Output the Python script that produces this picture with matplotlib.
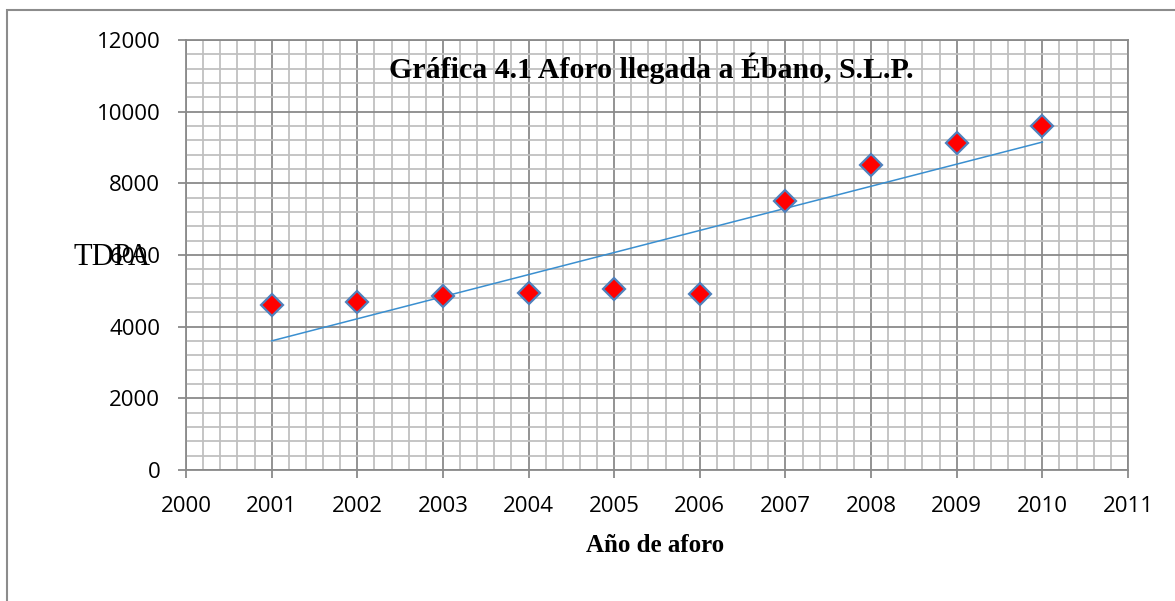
import numpy as np
import matplotlib
matplotlib.use("Agg")
import matplotlib.pyplot as plt
from matplotlib.ticker import MultipleLocator
from matplotlib.patches import Rectangle

# Traffic count data (TDPA) per year
years = [2001, 2002, 2003, 2004, 2005, 2006, 2007, 2008, 2009, 2010]
tdpa = [4600, 4700, 4850, 4950, 5050, 4900, 7500, 8500, 9125, 9600]

title = "Gráfica 4.1 Aforo llegada a Ébano, S.L.P."
xlabel = "Año de aforo"
ylabel = "TDPA"

fig = plt.figure(figsize=(11.75, 6.01), dpi=100)
fig.patch.set_facecolor("white")

# Outer chart-area frame
fig.patches.append(Rectangle((7 / 1175, -0.05), 1.2, 1 - 10 / 601 + 0.05,
                             transform=fig.transFigure, fill=False,
                             edgecolor="#8c8c8c", linewidth=1.5))

ax = fig.add_axes([186 / 1175, 1 - 470 / 601, 942 / 1175, 430 / 601])
ax.set_xlim(2000, 2011)
ax.set_ylim(0, 12000)

ax.xaxis.set_major_locator(MultipleLocator(1))
ax.xaxis.set_minor_locator(MultipleLocator(0.2))
ax.yaxis.set_major_locator(MultipleLocator(2000))
ax.yaxis.set_minor_locator(MultipleLocator(400))

ax.grid(which="minor", color="#c0c0c0", linewidth=1.3)
ax.grid(which="major", color="#8a8a8a", linewidth=1.3)
ax.set_axisbelow(True)

for s in ax.spines.values():
    s.set_color("#8a8a8a")
    s.set_linewidth(1.3)

ax.tick_params(which="major", direction="out", length=6, color="#8a8a8a",
               width=1.3, labelsize=16)
ax.tick_params(which="minor", length=0)
ax.tick_params(axis="y", pad=12.5)
ax.tick_params(axis="x", pad=13)
for lab in ax.get_xticklabels() + ax.get_yticklabels():
    lab.set_fontfamily("Open Sans")

# Linear trend line
coef = np.polyfit(years, tdpa, 1)
trend = np.polyval(coef, years)
ax.plot(years, trend, color="#3a8fd0", linewidth=1.1, zorder=3)

ax.plot(years, tdpa, linestyle="none", marker="D", markersize=11,
        markerfacecolor="#ff0000", markeredgecolor="#4f81bd",
        markeredgewidth=1.6, zorder=4)

ax.text(465 / 942, 1 - 28 / 430, title, transform=ax.transAxes,
        ha="center", va="center",
        fontfamily="Liberation Serif", fontweight="bold", fontsize=21.5)

fig.text(112 / 1175, 1 - 257 / 601, ylabel, ha="center", va="center",
         fontfamily="Liberation Serif", fontsize=22)
fig.text(655 / 1175, 1 - 546 / 601, xlabel, ha="center", va="center",
         fontfamily="Liberation Serif", fontweight="bold", fontsize=18)

fig.savefig("out.png", dpi=100)
